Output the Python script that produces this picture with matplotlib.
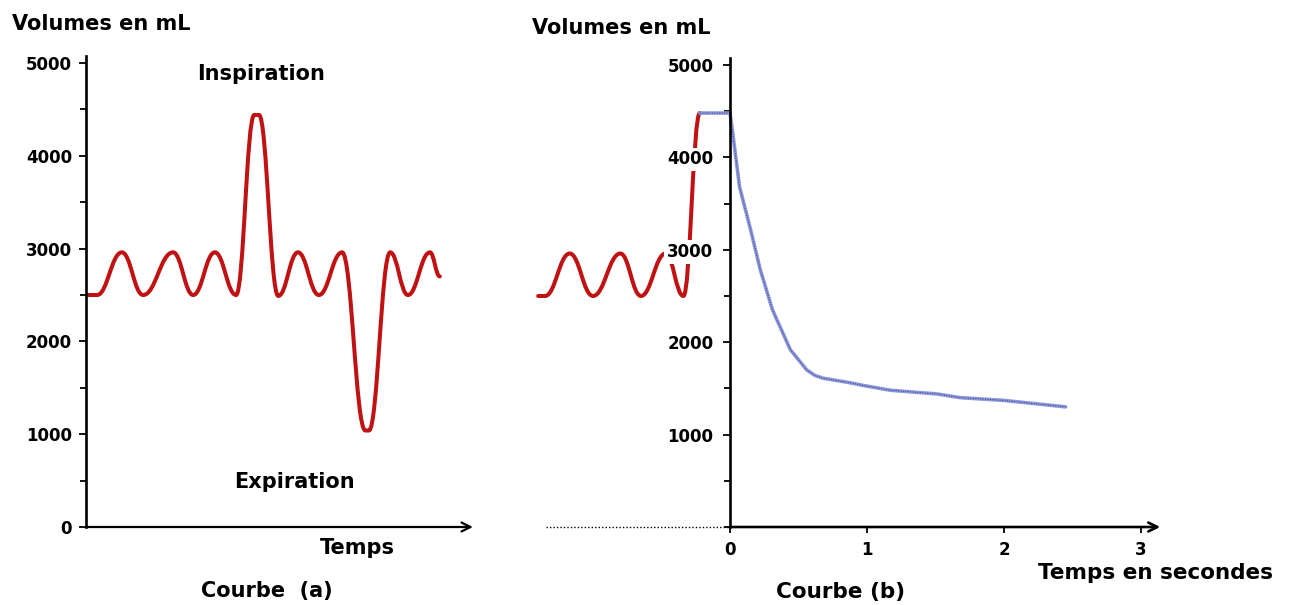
import matplotlib
matplotlib.use('Agg')
import matplotlib.pyplot as plt
from matplotlib.path import Path
from matplotlib.patches import PathPatch
from matplotlib.ticker import MultipleLocator

plt.rcParams['font.family'] = ['DejaVu Sans']
plt.rcParams['font.weight'] = 'bold'

# --- courbe (a): extrema (time in arbitrary units) ---
t_a = [0.25, 2.8, 9.1, 14.5, 22.1, 27.2, 32.7, 38.1, 42.7, 43.9, 48.8,
       53.8, 59.1, 65.0, 70.9, 71.8, 77.2, 81.7, 87.3, 89.8]
v_a = [2500, 2500, 2960, 2500, 2960, 2500, 2960, 2500, 4440, 4440, 2490,
       2960, 2500, 2960, 1040, 1040, 2960, 2500, 2960, 2700]

# --- courbe (b): breathing before t=0 (red) then forced expiration (blue) ---
t_b_red = [-1.40, -1.35, -1.17, -1.00, -0.80, -0.65, -0.47, -0.34, -0.22]
v_b_red = [2500, 2500, 2960, 2500, 2960, 2500, 2960, 2500, 4480]

t_b_blue = [-0.22, 0.0, 0.015, 0.07, 0.15, 0.22, 0.31, 0.44, 0.56, 0.62,
            0.68, 0.88, 0.98, 1.17, 1.51, 1.68, 2.0, 2.45]
v_b_blue = [4480, 4480, 4320, 3680, 3220, 2790, 2350, 1920, 1700, 1640,
            1610, 1560, 1530, 1480, 1440, 1400, 1370, 1300]

y_ticks_a = [0, 1000, 2000, 3000, 4000, 5000]
y_ticks_b = [1000, 2000, 3000, 4000, 5000]
x_ticks_b = [0, 1, 2, 3]

RED = '#c01212'
W, H = 1293, 605


def smooth_path(xs, ys, k=0.42):
    # cubic bezier between extrema, flat tangents at each point
    verts = [(xs[0], ys[0])]
    codes = [Path.MOVETO]
    for i in range(1, len(xs)):
        dx = xs[i] - xs[i-1]
        verts += [(xs[i-1] + k*dx, ys[i-1]), (xs[i] - k*dx, ys[i]), (xs[i], ys[i])]
        codes += [Path.CURVE4]*3
    return Path(verts, codes)


def style_yaxis(ax, ticks):
    ax.spines['top'].set_visible(False)
    ax.spines['right'].set_visible(False)
    ax.spines['bottom'].set_visible(False)
    ax.spines['left'].set_linewidth(1.9)
    ax.set_yticks(ticks)
    ax.yaxis.set_minor_locator(MultipleLocator(500))
    ax.tick_params(axis='y', which='major', length=5, width=1.3, labelsize=12)
    ax.tick_params(axis='y', which='minor', length=4, width=1.3)
    for lab in ax.get_yticklabels():
        lab.set_fontweight('bold')


fig = plt.figure(figsize=(W/100, H/100), dpi=100)

# ---------------- Courbe (a) ----------------
ax1 = fig.add_axes([86/W, (H-527)/H, 394/W, 471.4/H])
ax1.set_xlim(0, 100)
ax1.set_ylim(0, 5080)
style_yaxis(ax1, y_ticks_a)
ax1.tick_params(axis='y', pad=5)
ax1.set_xticks([])
ax1.add_patch(PathPatch(smooth_path(t_a, v_a), fill=False, edgecolor=RED,
                        lw=2.9, capstyle='round', joinstyle='round'))
ax1.annotate('', xy=(98.2, 0), xytext=(0, 0),
             arrowprops=dict(arrowstyle='->', lw=1.6, color='black',
                             shrinkA=0, shrinkB=0, mutation_scale=16),
             annotation_clip=False)
ax1.text(44.4, 4817, 'Inspiration', ha='center', va='baseline', fontsize=15, fontweight='bold')
ax1.text(52.8, 420, 'Expiration', ha='center', va='baseline', fontsize=15, fontweight='bold')

# ---------------- Courbe (b) ----------------
ax2 = fig.add_axes([531.35/W, (H-527)/H, 650.75/W, 469.4/H])
ax2.set_xlim(-1.45, 3.30)
ax2.set_ylim(0, 5080)
style_yaxis(ax2, y_ticks_b)
ax2.spines['left'].set_position(('data', 0))
ax2.tick_params(axis='y', pad=7)
for lab in ax2.get_yticklabels():
    lab.set_bbox(dict(facecolor='white', edgecolor='none', pad=2.0))
ax2.set_xticks(x_ticks_b)
ax2.tick_params(axis='x', length=4, width=1.3, labelsize=12, pad=6)
for lab in ax2.get_xticklabels():
    lab.set_fontweight('bold')

ax2.add_patch(PathPatch(smooth_path(t_b_red, v_b_red), fill=False, edgecolor=RED,
                        lw=2.9, capstyle='round', joinstyle='round'))
ax2.plot(t_b_blue, v_b_blue, color='#8d98d8', lw=2.6, solid_capstyle='round')
ax2.plot(t_b_blue, v_b_blue, color='#2e3c96', lw=0.7, ls=(0, (1, 1.5)))
ax2.plot([-1.34, 0], [0, 0], color='black', lw=1.0, ls=(0, (1, 1.5)), clip_on=False)
ax2.annotate('', xy=(3.14, 0), xytext=(0, 0),
             arrowprops=dict(arrowstyle='->', lw=1.9, color='black',
                             shrinkA=0, shrinkB=0, mutation_scale=16),
             annotation_clip=False)

# ---------------- titres ----------------
fig.text(12/W, 1-30/H, 'Volumes en mL', ha='left', va='baseline', fontsize=15, fontweight='bold')
fig.text(532/W, 1-34/H, 'Volumes en mL', ha='left', va='baseline', fontsize=15, fontweight='bold')
fig.text(357/W, 1-554/H, 'Temps', ha='center', va='baseline', fontsize=15, fontweight='bold')
fig.text(267/W, 1-597/H, 'Courbe  (a)', ha='center', va='baseline', fontsize=15, fontweight='bold')
fig.text(841/W, 1-598/H, 'Courbe (b)', ha='center', va='baseline', fontsize=15.5, fontweight='bold')
fig.text(1156/W, 1-579/H, 'Temps en secondes', ha='center', va='baseline', fontsize=15.5, fontweight='bold')

fig.savefig('out.png', dpi=100)
